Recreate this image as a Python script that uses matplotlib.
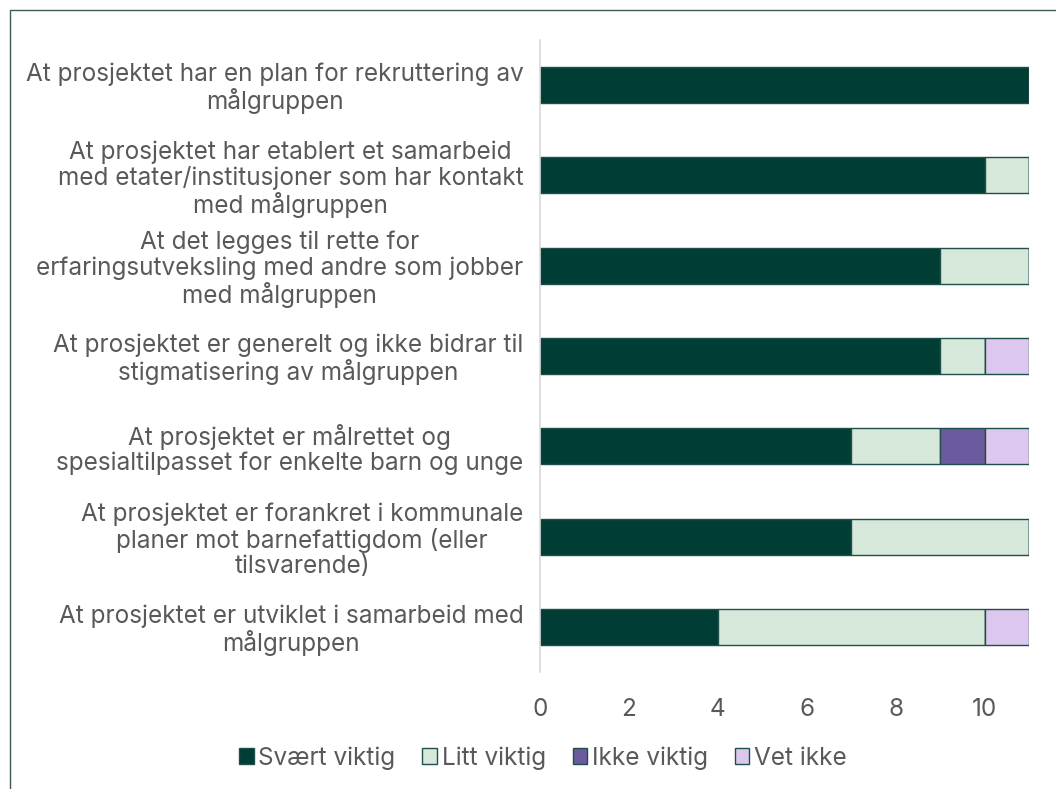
import matplotlib.pyplot as plt
from matplotlib.patches import Rectangle
import numpy as np

plt.rcParams['font.family'] = ['Inter', 'DejaVu Sans']

categories = [
    "At prosjektet har en plan for rekruttering av\nmålgruppen",
    "At prosjektet har etablert et samarbeid\nmed etater/institusjoner som har kontakt\nmed målgruppen",
    "At det legges til rette for\nerfaringsutveksling med andre som jobber\nmed målgruppen",
    "At prosjektet er generelt og ikke bidrar til\nstigmatisering av målgruppen",
    "At prosjektet er målrettet og\nspesialtilpasset for enkelte barn og unge",
    "At prosjektet er forankret i kommunale\nplaner mot barnefattigdom (eller\ntilsvarende)",
    "At prosjektet er utviklet i samarbeid med\nmålgruppen",
]
svaert_viktig = [11, 10, 9, 9, 7, 7, 4]
litt_viktig = [0, 1, 2, 1, 2, 4, 6]
ikke_viktig = [0, 0, 0, 0, 1, 0, 0]
vet_ikke = [0, 0, 0, 1, 1, 0, 1]

series = [
    ("Svært viktig", svaert_viktig, "#003d35"),
    ("Litt viktig", litt_viktig, "#d5e8d9"),
    ("Ikke viktig", ikke_viktig, "#6b5b9e"),
    ("Vet ikke", vet_ikke, "#dcc8ee"),
]

text_color = "#595959"
edge = "#1f4f4a"
fs = 17.5

fig = plt.figure(figsize=(10.56, 7.89), dpi=100)
ax = fig.add_axes([540 / 1056, 1 - 672 / 789, (1029 - 540) / 1056, 632 / 789])

y = np.arange(len(categories))
left = np.zeros(len(categories))
for name, vals, color in series:
    vals = np.array(vals, dtype=float)
    ax.barh(y, vals, left=left, height=0.4, color=color, edgecolor=edge,
            linewidth=1, label=name)
    left += vals

ax.set_ylim(len(categories) - 0.5, -0.5)
ax.set_xlim(0, 11)
ax.set_yticks(y)
ax.set_yticklabels(categories, fontsize=fs, color=text_color, ha='right',
                   multialignment='center', linespacing=1.1)
ax.set_xticks([0, 2, 4, 6, 8, 10])
ax.tick_params(axis='x', labelsize=fs, colors=text_color, length=0, pad=19)
ax.tick_params(axis='y', length=0, pad=12)
for s in ['top', 'right', 'bottom']:
    ax.spines[s].set_visible(False)
ax.spines['left'].set_color('#d9d9d9')
ax.spines['left'].set_linewidth(1.2)

handles, labels = ax.get_legend_handles_labels()
fig.legend(handles, labels, loc='center', bbox_to_anchor=(543 / 1056, 1 - 758 / 789),
           ncol=4, frameon=False, fontsize=fs, labelcolor=text_color,
           handlelength=0.6, handleheight=0.6, handletextpad=0.2, columnspacing=1.1)

fig.patches.append(Rectangle((9.5 / 1056, -0.1), 1.2, 1 - 10 / 789 + 0.1,
                             transform=fig.transFigure, fill=False,
                             edgecolor='#3f5a55', linewidth=1))

fig.savefig('out.png', dpi=100)
